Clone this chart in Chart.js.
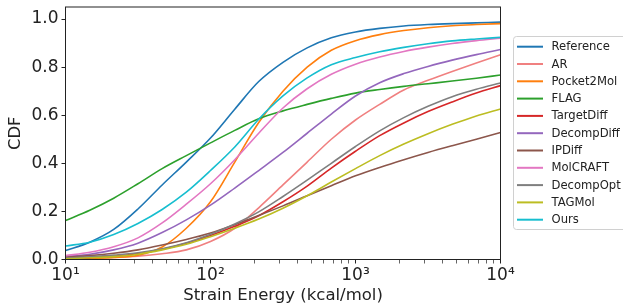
<!DOCTYPE html>
<html>
<head>
<meta charset="utf-8">
<script src="https://cdn.jsdelivr.net/npm/chart.js@4.4.0/dist/chart.umd.min.js"></script>
<style>
  html, body { margin: 0; padding: 0; background: #fff; }
</style>
</head>
<body>
<canvas id="cdfChart" width="623" height="305"></canvas>
<script>
// strain energy sample points (kcal/mol), six per decade on the log axis
const energies = [10, 14.7, 21.5, 31.6, 46.4, 68.1, 100, 147, 215, 316, 464, 681, 1000, 1468, 2154, 3162, 4642, 6813, 10000];

const methods = ["Reference", "AR", "Pocket2Mol", "FLAG", "TargetDiff", "DecompDiff", "IPDiff", "MolCRAFT", "DecompOpt", "TAGMol", "Ours"];
const colors = ["#1f77b4", "#f08080", "#ff7f0e", "#2ca02c", "#d62728", "#9467bd", "#8c564b", "#e377c2", "#7f7f7f", "#bcbd22", "#17becf"];

// CDF values
const reference  = [0.037, 0.072, 0.125, 0.21, 0.31, 0.405, 0.505, 0.625, 0.74, 0.82, 0.88, 0.922, 0.946, 0.961, 0.971, 0.977, 0.981, 0.984, 0.987];
const ar         = [0.004, 0.006, 0.009, 0.014, 0.024, 0.04, 0.075, 0.13, 0.215, 0.31, 0.405, 0.5, 0.58, 0.645, 0.705, 0.745, 0.782, 0.817, 0.851];
const pocket2mol = [0.002, 0.004, 0.008, 0.018, 0.052, 0.13, 0.24, 0.405, 0.57, 0.70, 0.80, 0.87, 0.91, 0.935, 0.952, 0.964, 0.972, 0.977, 0.981];
const flag       = [0.162, 0.205, 0.255, 0.315, 0.378, 0.432, 0.485, 0.537, 0.585, 0.618, 0.645, 0.67, 0.692, 0.707, 0.72, 0.731, 0.742, 0.754, 0.767];
const targetDiff = [0.004, 0.008, 0.014, 0.025, 0.043, 0.068, 0.1, 0.138, 0.182, 0.24, 0.305, 0.38, 0.45, 0.515, 0.568, 0.615, 0.655, 0.692, 0.723];
const decompDiff = [0.012, 0.022, 0.04, 0.068, 0.112, 0.165, 0.226, 0.297, 0.37, 0.445, 0.525, 0.605, 0.68, 0.735, 0.773, 0.803, 0.829, 0.852, 0.873];
const ipDiff     = [0.009, 0.016, 0.026, 0.04, 0.06, 0.083, 0.11, 0.145, 0.183, 0.223, 0.265, 0.307, 0.348, 0.383, 0.415, 0.445, 0.473, 0.5, 0.528];
const molCRAFT   = [0.016, 0.03, 0.053, 0.09, 0.152, 0.23, 0.315, 0.415, 0.525, 0.63, 0.71, 0.77, 0.812, 0.842, 0.865, 0.883, 0.898, 0.91, 0.92];
const decompOpt  = [0.006, 0.011, 0.018, 0.028, 0.045, 0.07, 0.105, 0.148, 0.198, 0.262, 0.33, 0.4, 0.47, 0.535, 0.59, 0.637, 0.677, 0.708, 0.734];
const tagMol     = [0.003, 0.007, 0.012, 0.022, 0.04, 0.063, 0.095, 0.13, 0.168, 0.213, 0.265, 0.322, 0.378, 0.432, 0.48, 0.523, 0.562, 0.597, 0.626];
const ours       = [0.056, 0.072, 0.104, 0.15, 0.208, 0.28, 0.37, 0.468, 0.583, 0.68, 0.755, 0.81, 0.84, 0.864, 0.882, 0.897, 0.909, 0.917, 0.924];

const series = [reference, ar, pocket2mol, flag, targetDiff, decompDiff, ipDiff, molCRAFT, decompOpt, tagMol, ours];

const yTicks = [0, 0.2, 0.4, 0.6, 0.8, 1.0];
const xMajor = [10, 100, 1000, 10000];
const xTickLabels = ["10¹", "10²", "10³", "10⁴"];

const FONT = "'DejaVu Sans', sans-serif";

// major + minor ticks of the log axis (1..9 per decade)
function logTicks() {
    const t = [];
    for (let d = 10; d < 10000; d *= 10) {
        for (let k = 1; k < 10; k++) t.push(d * k);
    }
    t.push(10000);
    return t.map(v => ({ value: v }));
}

const datasets = series.map((vals, i) => ({
    label: methods[i],
    data: vals.map((v, j) => ({ x: energies[j], y: v })),
    borderColor: colors[i],
    backgroundColor: colors[i],
    borderWidth: 1.6,
    pointRadius: 0,
    cubicInterpolationMode: "monotone",
    order: -i,   // later series drawn on top, like matplotlib
}));

// box around the plot + legend in a rounded frame
const framePlugin = {
    id: "frame",
    afterDatasetsDraw(chart) {
        const { ctx, chartArea: a } = chart;
        ctx.save();
        ctx.strokeStyle = "#222";
        ctx.lineWidth = 1;
        ctx.strokeRect(a.left, a.top, a.right - a.left, a.bottom - a.top);
        ctx.restore();
    },
    afterDraw(chart) {
        const ctx = chart.ctx;
        const x0 = 513.5, y0 = 36.5, w = 120, h = 193;
        ctx.save();
        ctx.beginPath();
        ctx.roundRect(x0, y0, w, h, 3);
        ctx.fillStyle = "rgba(255,255,255,0.8)";
        ctx.fill();
        ctx.strokeStyle = "#d0d0d0";
        ctx.lineWidth = 1;
        ctx.stroke();
        ctx.font = "11.6px " + FONT;
        ctx.textBaseline = "middle";
        ctx.fillStyle = "#222";
        chart.data.datasets.forEach((ds, i) => {
            const y = 46.7 + i * 17.3;
            ctx.strokeStyle = ds.borderColor;
            ctx.lineWidth = 2;
            ctx.beginPath();
            ctx.moveTo(517, y);
            ctx.lineTo(543, y);
            ctx.stroke();
            ctx.fillText(ds.label, 551.5, y + 0.5);
        });
        ctx.restore();
    }
};

new Chart(document.getElementById("cdfChart"), {
    type: "line",
    data: { datasets },
    plugins: [framePlugin],
    options: {
        responsive: false,
        animation: false,
        layout: { padding: { top: 7, right: 122.5, left: 0, bottom: 0 } },
        scales: {
            x: {
                type: "logarithmic",
                min: 10,
                max: 10000,
                afterBuildTicks: s => { s.ticks = logTicks(); },
                afterFit: s => { s.height = 45.5; s.paddingLeft = 0; s.paddingRight = 0; },
                grid: {
                    drawOnChartArea: false,
                    drawTicks: true,
                    tickLength: 4,
                    tickColor: "#222",
                    tickWidth: c => xMajor.includes(c.tick.value) ? 1 : 0.7,
                },
                border: { color: "#222", width: 1 },
                ticks: {
                    autoSkip: false,
                    maxRotation: 0,
                    padding: 2,
                    color: "#222",
                    font: { family: FONT, size: 17 },
                    callback: v => {
                        const k = xMajor.indexOf(v);
                        return k >= 0 ? xTickLabels[k] : "";
                    }
                },
                title: {
                    display: true,
                    text: "Strain Energy (kcal/mol)",
                    color: "#222",
                    font: { family: FONT, size: 16.5 },
                    padding: { top: 0, bottom: -1 }
                }
            },
            y: {
                min: 0,
                max: 1.05,
                afterBuildTicks: s => { s.ticks = yTicks.map(v => ({ value: v })); },
                afterFit: s => { s.width = 65.5; s.paddingTop = 0; s.paddingBottom = 0; },
                grid: {
                    drawOnChartArea: false,
                    drawTicks: true,
                    tickLength: 4,
                    tickColor: "#222",
                },
                border: { color: "#222", width: 1 },
                ticks: {
                    padding: 3,
                    color: "#222",
                    font: { family: FONT, size: 17 },
                    callback: v => v.toFixed(1)
                },
                title: {
                    display: true,
                    text: "CDF",
                    color: "#222",
                    font: { family: FONT, size: 16.5 },
                    padding: { top: 6, bottom: 0 }
                }
            }
        },
        plugins: {
            legend: { display: false },
            tooltip: { enabled: false }
        }
    }
});
</script>
</body>
</html>
